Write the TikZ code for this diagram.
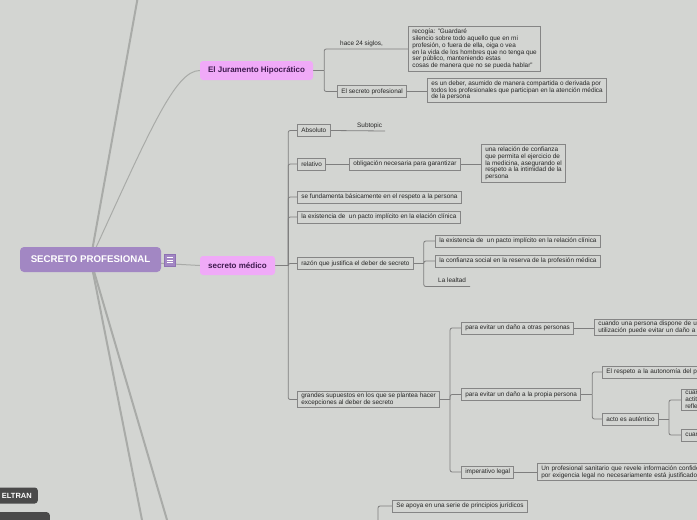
\documentclass[tikz,border=0pt]{standalone}
\usepackage{fontspec}
\setmainfont{Liberation Sans}
\usetikzlibrary{calc}
\pgfdeclarelayer{bg}\pgfdeclarelayer{lines}\pgfsetlayers{bg,lines,main}
\definecolor{bgc}{HTML}{D3D5D2}
\definecolor{boxline}{HTML}{858585}
\definecolor{conn}{HTML}{7E7E7E}
\definecolor{txt}{HTML}{262626}
\definecolor{pinkc}{HTML}{F0AAF8}
\definecolor{purp}{HTML}{A287C3}
\definecolor{purpd}{HTML}{8E72B3}
\definecolor{darktxt}{HTML}{3E1A4E}
\definecolor{thickc}{HTML}{A9ABA8}
\definecolor{darkn}{HTML}{4A4A4A}
\tikzset{
 tbox/.style={draw=boxline, line width=1pt, fill=bgc, font=\fontsize{6.4}{6.8}\selectfont, text=txt, inner xsep=3.8pt, inner ysep=2pt, minimum height=12pt, align=left, anchor=west},
 ftext/.style={font=\fontsize{6.4}{6.8}\selectfont, text=txt, inner sep=0pt, anchor=base west},
 cn/.style={draw=conn, line width=0.8pt, rounded corners=2pt},
 mainline/.style={draw=thickc, line width=2pt},
 thinline/.style={draw=thickc, line width=1pt},
 maintopic/.style={fill=pinkc, rounded corners=3pt, font=\fontsize{8}{9}\selectfont\bfseries, text=darktxt, inner sep=0pt},
 darknode/.style={fill=darkn, rounded corners=3pt, font=\fontsize{7.5}{8}\selectfont\bfseries, text=white, inner sep=0pt},
}
\begin{document}
\begin{tikzpicture}[x=1pt,y=-1pt]
\useasboundingbox (0,0) rectangle (697,520);
\clip (0,0) rectangle (697,520);
\begin{pgfonlayer}{bg}
\fill[bgc] (0,0) rectangle (697,520);
\end{pgfonlayer}

% central and main topics
\node[fill=purp, rounded corners=4pt, minimum width=141pt, minimum height=25pt, inner sep=0pt, font=\fontsize{9.7}{10}\selectfont\bfseries, text=white] (cen) at (90.5,259.5) {SECRETO PROFESIONAL};
\node[fill=purp, draw=purpd, line width=0.5pt, minimum width=11pt, minimum height=12pt, inner sep=0pt] (ico) at (169.5,260) {};
\draw[white, line width=0.7pt] ($(ico.center)+(-3,-2.6)$) -- ++(6,0) ($(ico.center)+(-3,0)$) -- ++(6,0) ($(ico.center)+(-3,2.6)$) -- ++(6,0);
\node[maintopic, minimum width=113pt, minimum height=19pt] (jur) at (256.5,70.5) {El Juramento Hipocrático};
\node[maintopic, minimum width=75pt, minimum height=19pt] (sm) at (237.5,265.5) {secreto médico};

% dark nodes at bottom left
\node[darknode, text width=50pt, align=right, inner xsep=6pt, minimum height=16pt, anchor=east] (belt) at (38,495.5) {ELTRAN};
\node[darknode, minimum width=80pt, minimum height=20pt, anchor=north east] (dk2) at (50,512) {};

% Juramento branch
\node[tbox] (recog) at (408,49) {recogía: "Guardaré\\silencio sobre todo aquello que en mi\\profesión, o fuera de ella, oiga o vea\\en la vida de los hombres que no tenga que\\ser público, manteniendo estas\\cosas de manera que no se pueda hablar"};
\node[ftext] (hace) at (340,45.5) {hace 24 siglos,};
\node[tbox] (sp) at (337,91.5) {El secreto profesional};
\node[tbox] (deber) at (427,90.5) {es un deber, asumido de manera compartida o derivada por\\todos los profesionales que participan en la atención médica\\de la persona};

% secreto medico branch
\node[tbox] (abs) at (297,130.5) {Absoluto};
\node[ftext] (subt) at (357,127.5) {Subtopic};
\coordinate (subend) at (385,131);
\node[tbox] (rel) at (297,164) {relativo};
\node[tbox] (obl) at (349,164) {obligación necesaria para garantizar};
\node[tbox] (relc) at (481,163.5) {una relación de confianza\\que permita el ejercicio de\\la medicina, asegurando el\\respeto a la intimidad de la\\persona};
\node[tbox] (fund) at (297,197) {se fundamenta básicamente en el respeto a la persona};
\node[tbox] (exis1) at (297,217) {la existencia de~ un pacto implícito en la elación clínica};
\node[tbox] (raz) at (297,263.5) {razón que justifica el deber de secreto};
\node[tbox] (exis2) at (435,241) {la existencia de~ un pacto implícito en la relación clínica};
\node[tbox] (conf) at (435,261) {la confianza social en la reserva de la profesión médica};
\node[ftext] (leal) at (438,282.5) {La lealtad};
\coordinate (lealend) at (470,286.5);
\node[tbox] (gr) at (297,399.5) {grandes supuestos en los que se plantea hacer\\excepciones al deber de secreto};
\node[tbox] (ev1) at (461,328) {para evitar un daño a otras personas};
\node[tbox, text width=150pt] (cuando) at (594,327.5) {cuando una persona dispone de una\\utilización puede evitar un daño a t};
\node[tbox] (ev2) at (461,394.5) {para evitar un daño a la propia persona};
\node[tbox, text width=120pt] (resp) at (602,372) {El respeto a la autonomía del pa};
\node[tbox] (acto) at (602,419) {acto es auténtico};
\node[tbox, text width=40pt] (cu1) at (681,400) {cuan\\actit\\refle};
\node[tbox, text width=40pt] (cu2) at (681,435) {cuan};
\node[tbox] (imp) at (461,472) {imperativo legal};
\node[tbox, text width=200pt] (unprof) at (537,472) {Un profesional sanitario que revele información confiden\\por exigencia legal no necesariamente está justificado};
\node[tbox] (sap) at (392,506) {Se apoya en una serie de principios jurídicos};
\coordinate (sa0) at (378,525);

\coordinate (up) at (138.2,-5);
\coordinate (down1) at (143,525);
\coordinate (down2) at (168.5,525);

\begin{pgfonlayer}{lines}
\draw[mainline] (cen.center) -- (up);
\draw[mainline] (cen.center) -- (down1);
\draw[mainline] (cen.center) -- (down2);
\draw[thinline] (cen.center) .. controls (150,130) and (175,70.5) .. (jur.west);
\draw[thinline] (cen.center) -- (sm.west);

\draw[cn] (jur.east) -- ++(11,0) coordinate (jt);
\draw[cn] (jt) |- (recog.west);
\draw[cn] (jt) |- (sp.west);
\draw[cn] (sp.east) -- (sp.east -| deber.west);

\draw[cn] (sm.east) -- ++(13,0) coordinate (st);
\draw[cn] (st) |- (abs.west);
\draw[cn] (st) |- (rel.west);
\draw[cn] (st) |- (fund.west);
\draw[cn] (st) |- (exis1.west);
\draw[cn] (st) |- (raz.west);
\draw[cn] (st) |- (gr.west);
\draw[cn] (abs.east) -- (subend);
\draw[cn] (rel.east) -- (obl.west);
\draw[cn] (obl.east) -- (obl.east -| relc.west);

\draw[cn] (raz.east) -- ++(10,0) coordinate (rt);
\draw[cn] (rt) |- (exis2.west);
\draw[cn] (rt) |- (conf.west);
\draw[cn] (rt) |- (lealend);

\draw[cn] (gr.east) -- ++(10,0) coordinate (gt);
\draw[cn] (gt) |- (ev1.west);
\draw[cn] (gt) |- (ev2.west);
\draw[cn] (gt) |- (imp.west);
\draw[cn] (ev1.east) -- (ev1.east -| cuando.west);
\draw[cn] (ev2.east) -- ++(11,0) coordinate (et);
\draw[cn] (et) |- (resp.west);
\draw[cn] (et) |- (acto.west);
\draw[cn] (acto.east) -- ++(10,0) coordinate (at);
\draw[cn] (at) |- (cu1.west);
\draw[cn] (at) |- (cu2.west);
\draw[cn] (imp.east) -- (unprof.west);
\draw[cn] (sa0) |- (sap.west);
\end{pgfonlayer}
\end{tikzpicture}
\end{document}
